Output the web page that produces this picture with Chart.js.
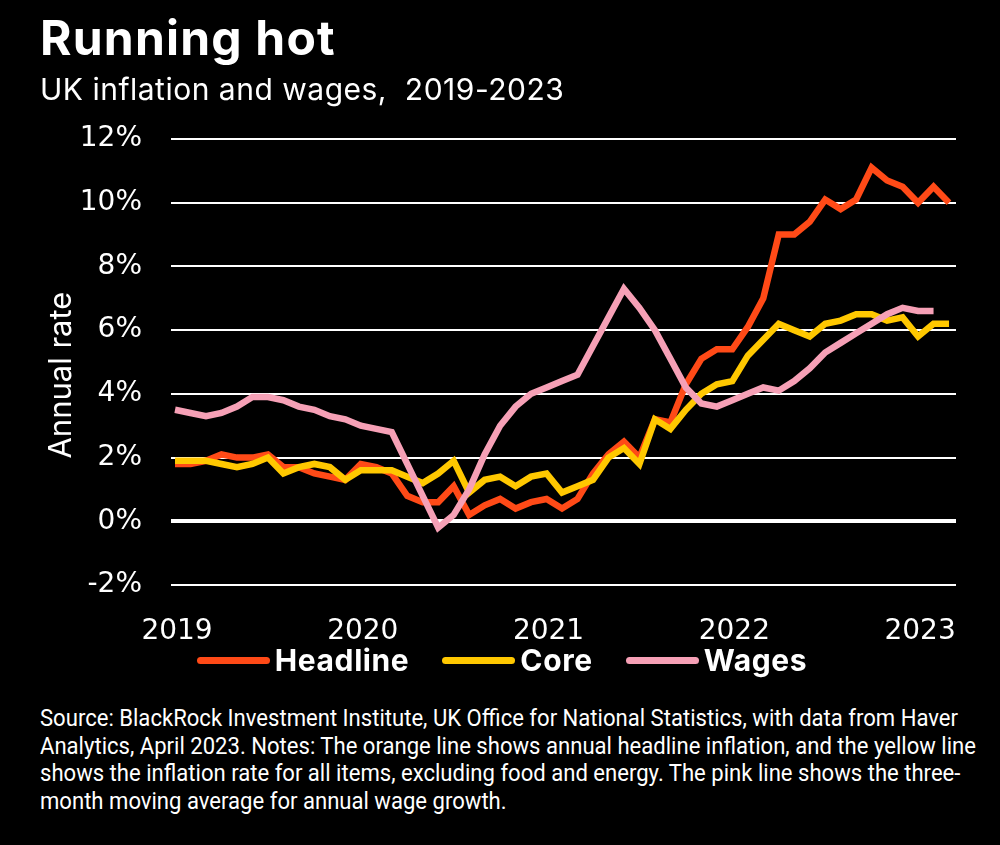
<!DOCTYPE html>
<html lang="en">
<head>
<meta charset="utf-8">
<title>Running hot</title>
<script src="https://cdn.jsdelivr.net/npm/chart.js@4.4.1/dist/chart.umd.min.js"></script>
<style>
    html, body { margin: 0; padding: 0; background: #000; }
    body {
        width: 1000px;
        height: 845px;
        position: relative;
        overflow: hidden;
        color: #fff;
        font-family: Inter, sans-serif;
    }
    #chart-wrap { position: absolute; left: 0; top: 0; width: 1000px; height: 685px; }
    h1 {
        position: absolute; left: 40px; top: 14px; margin: 0;
        font: 700 48px/1 Inter, sans-serif;
        letter-spacing: 1.2px;
    }
    .subtitle {
        position: absolute; left: 40px; top: 74px; margin: 0;
        font: 400 30px/1 Inter, sans-serif;
        letter-spacing: 0.5px;
        white-space: pre;
    }
    #legend {
        position: absolute; left: 0; top: 645px; width: 1004px; height: 30px;
        display: flex; justify-content: center; align-items: center; gap: 33px;
    }
    #legend .item { display: flex; align-items: center; gap: 5px; }
    #legend .swatch { width: 73px; height: 7px; border-radius: 3.5px; }
    #legend .label { font: 700 30px/30px Inter, sans-serif; letter-spacing: 0.6px; }
    .note {
        position: absolute; left: 40px; top: 705px; margin: 0;
        font: 400 23.5px/27.7px Roboto, sans-serif;
        white-space: nowrap;
        transform-origin: 0 0;
    }
</style>
</head>
<body>
<div id="chart-wrap"><canvas id="chart"></canvas></div>
<h1>Running hot</h1>
<p class="subtitle">UK inflation and wages,  2019-2023</p>
<div id="legend"></div>
<p class="note" id="note"><span id="note-first">Source: BlackRock Investment Institute, UK Office for National Statistics, with data from Haver</span><br>Analytics, April 2023. Notes: The orange line shows annual headline inflation, and the yellow line<br>shows the inflation rate for all items, excluding food and energy. The pink line shows the three-<br>month moving average for annual wage growth.</p>

<script>
// Months Jan 2019 .. Mar 2023
const months = [
    'Jan 2019', 'Feb 2019', 'Mar 2019', 'Apr 2019', 'May 2019', 'Jun 2019',
    'Jul 2019', 'Aug 2019', 'Sep 2019', 'Oct 2019', 'Nov 2019', 'Dec 2019',
    'Jan 2020', 'Feb 2020', 'Mar 2020', 'Apr 2020', 'May 2020', 'Jun 2020',
    'Jul 2020', 'Aug 2020', 'Sep 2020', 'Oct 2020', 'Nov 2020', 'Dec 2020',
    'Jan 2021', 'Feb 2021', 'Mar 2021', 'Apr 2021', 'May 2021', 'Jun 2021',
    'Jul 2021', 'Aug 2021', 'Sep 2021', 'Oct 2021', 'Nov 2021', 'Dec 2021',
    'Jan 2022', 'Feb 2022', 'Mar 2022', 'Apr 2022', 'May 2022', 'Jun 2022',
    'Jul 2022', 'Aug 2022', 'Sep 2022', 'Oct 2022', 'Nov 2022', 'Dec 2022',
    'Jan 2023', 'Feb 2023', 'Mar 2023'
];

// Annual rates, %
const headline = [
    1.8, 1.8, 1.9, 2.1, 2.0, 2.0, 2.1, 1.7, 1.7, 1.5, 1.4, 1.3,
    1.8, 1.7, 1.5, 0.8, 0.6, 0.6, 1.1, 0.2, 0.5, 0.7, 0.4, 0.6,
    0.7, 0.4, 0.7, 1.5, 2.1, 2.5, 2.0, 3.2, 3.1, 4.3, 5.1, 5.4,
    5.4, 6.1, 7.0, 9.0, 9.0, 9.4, 10.1, 9.8, 10.1, 11.1, 10.7, 10.5,
    10.0, 10.5, 10.0
];
const core = [
    1.9, 1.9, 1.9, 1.8, 1.7, 1.8, 2.0, 1.5, 1.7, 1.8, 1.7, 1.3,
    1.6, 1.6, 1.6, 1.4, 1.2, 1.5, 1.9, 0.9, 1.3, 1.4, 1.1, 1.4,
    1.5, 0.9, 1.1, 1.3, 2.0, 2.3, 1.8, 3.2, 2.9, 3.5, 4.0, 4.3,
    4.4, 5.2, 5.7, 6.2, 6.0, 5.8, 6.2, 6.3, 6.5, 6.5, 6.3, 6.4,
    5.8, 6.2, 6.2
];
const wages = [
    3.5, 3.4, 3.3, 3.4, 3.6, 3.9, 3.9, 3.8, 3.6, 3.5, 3.3, 3.2,
    3.0, 2.9, 2.8, 1.8, 0.8, -0.2, 0.2, 1.0, 2.1, 3.0, 3.6, 4.0,
    4.2, 4.4, 4.6, 5.5, 6.4, 7.3, 6.7, 6.0, 5.1, 4.2, 3.7, 3.6,
    3.8, 4.0, 4.2, 4.1, 4.4, 4.8, 5.3, 5.6, 5.9, 6.2, 6.5, 6.7,
    6.6, 6.6
];

// Tick labels
const yearLabels = ['2019', '2020', '2021', '2022', '2023'];
const yearTickMonths = ['Jan 2019', 'Jan 2020', 'Jan 2021', 'Jan 2022', 'Jan 2023'];
const yTicks = [-2, 0, 2, 4, 6, 8, 10, 12];

const COLORS = {
    headline: '#ff4a17',
    core: '#ffc800',
    wages: '#f6a0b6',
    text: '#ffffff',
    grid: '#ffffff'
};

const TICK_FONT = { family: '"DejaVu Sans", Inter, sans-serif', size: 28, lineHeight: 1.2 };

function toPoints(values) {
    return values.map((v, i) => ({ x: i, y: v }));
}

const yearTickValues = yearTickMonths.map(m => months.indexOf(m));

/**
 * Build the legend as HTML below the axis, from the chart's own legend items
 */
const htmlLegend = {
    id: 'htmlLegend',
    afterUpdate(chart) {
        const box = document.getElementById('legend');
        box.innerHTML = '';
        const items = chart.options.plugins.legend.labels.generateLabels(chart)
            .sort((a, b) => a.datasetIndex - b.datasetIndex);
        items.forEach(item => {
            const el = document.createElement('div');
            el.className = 'item';
            const swatch = document.createElement('span');
            swatch.className = 'swatch';
            swatch.style.background = item.strokeStyle;
            const label = document.createElement('span');
            label.className = 'label';
            label.textContent = item.text;
            el.appendChild(swatch);
            el.appendChild(label);
            box.appendChild(el);
        });
    }
};

const ctx = document.getElementById('chart').getContext('2d');

new Chart(ctx, {
    type: 'line',
    data: {
        datasets: [
            { label: 'Headline', data: toPoints(headline), borderColor: COLORS.headline, backgroundColor: COLORS.headline, order: 3 },
            { label: 'Core', data: toPoints(core), borderColor: COLORS.core, backgroundColor: COLORS.core, order: 2 },
            { label: 'Wages', data: toPoints(wages), borderColor: COLORS.wages, backgroundColor: COLORS.wages, order: 1 }
        ]
    },
    options: {
        responsive: true,
        maintainAspectRatio: false,
        animation: false,
        layout: { padding: { top: 139, left: 46, right: 44, bottom: 15.4 } },
        elements: {
            line: { borderWidth: 6.5, tension: 0, borderJoinStyle: 'miter', borderCapStyle: 'butt', fill: false },
            point: { radius: 0, hoverRadius: 0 }
        },
        scales: {
            x: {
                type: 'linear',
                min: -0.26,
                max: 50.45,
                grid: { display: false },
                border: { display: false },
                afterBuildTicks: scale => { scale.ticks = yearTickValues.map(v => ({ value: v })); },
                ticks: {
                    color: COLORS.text,
                    font: TICK_FONT,
                    padding: 21.5,
                    labelOffset: 2,
                    maxRotation: 0,
                    autoSkip: false,
                    callback: value => yearLabels[yearTickValues.indexOf(value)]
                }
            },
            y: {
                min: -2,
                max: 12,
                afterBuildTicks: scale => { scale.ticks = yTicks.map(v => ({ value: v })); },
                afterFit: scale => { scale.width = 125; },
                grid: {
                    color: COLORS.grid,
                    lineWidth: c => (c.tick && c.tick.value === 0 ? 4 : 2),
                    drawTicks: false
                },
                border: { display: false },
                ticks: {
                    color: COLORS.text,
                    font: TICK_FONT,
                    padding: 29,
                    callback: value => value + '%'
                },
                title: {
                    display: true,
                    // trailing spaces nudge the rotated title down, as in the original
                    text: 'Annual rate   ',
                    color: COLORS.text,
                    font: { family: 'Inter, sans-serif', size: 31, lineHeight: 1 },
                    padding: 0
                }
            }
        },
        plugins: {
            legend: { display: false },
            tooltip: { enabled: false }
        }
    },
    plugins: [htmlLegend]
});

// Fit the source note to the width of the original's first line
const note = document.getElementById('note');
const firstLine = document.getElementById('note-first');
const scaleX = 918 / firstLine.getBoundingClientRect().width;
note.style.transform = 'scaleX(' + scaleX.toFixed(4) + ')';
</script>
</body>
</html>
